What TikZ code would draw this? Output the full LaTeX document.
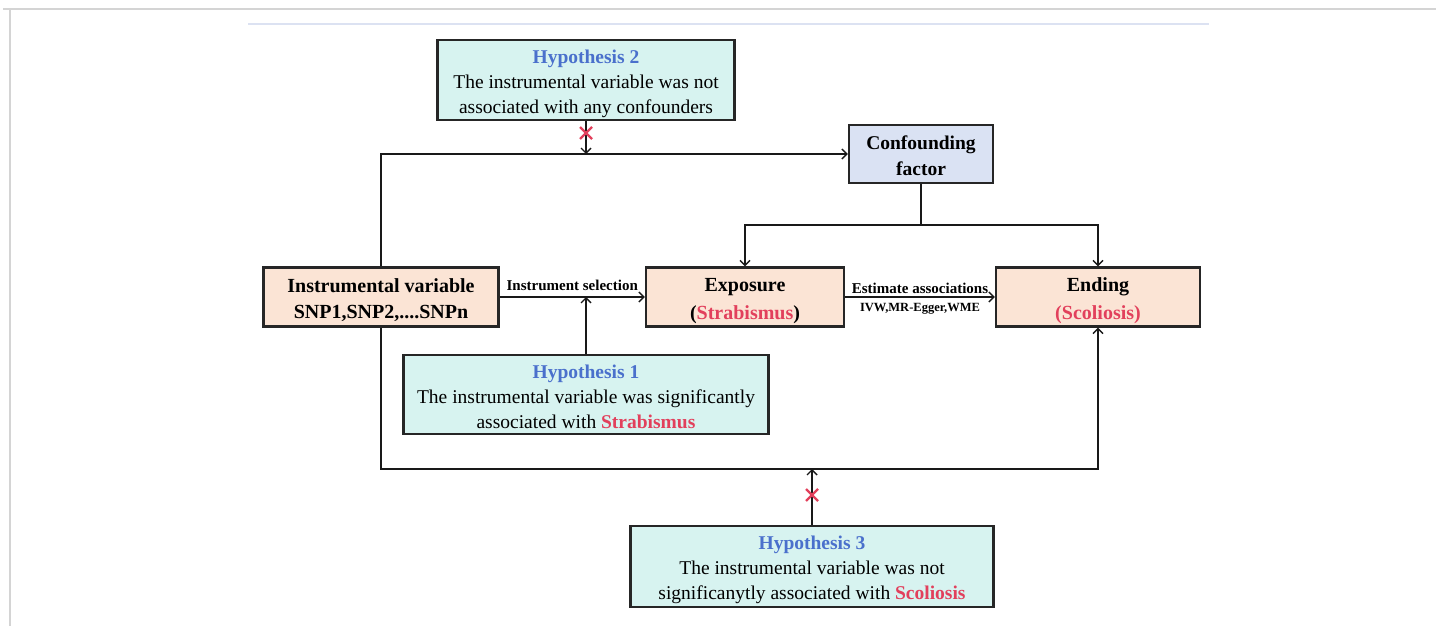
\documentclass[tikz,border=0pt]{standalone}
\usepackage{fontspec}
\setmainfont{Liberation Serif}
\usetikzlibrary{arrows.meta}
\definecolor{hypblue}{HTML}{4A70CC}
\definecolor{redtxt}{HTML}{E2405C}
\definecolor{hypfill}{HTML}{D7F3F0}
\definecolor{conffill}{HTML}{DAE2F3}
\definecolor{peach}{HTML}{FBE4D5}
\definecolor{framegray}{HTML}{D4D4D4}
\definecolor{frameblue}{HTML}{DCE2F2}
\tikzset{
  box/.style={draw=black!85, line width=2.2pt, inner sep=0pt, align=center, font=\fontsize{19.5}{25}\selectfont},
  hyp/.style={box, fill=hypfill},
  peachbox/.style={box, fill=peach, font=\bfseries\fontsize{20}{28.5}\selectfont},
  confbox/.style={box, fill=conffill, font=\bfseries\fontsize{19.5}{26}\selectfont},
  conn/.style={line width=1.8pt, draw=black!90},
  arr/.style={conn, -{Straight Barb[length=5pt,width=10pt,line width=1.4pt]}},
  edgelbl/.style={font=\bfseries\fontsize{15}{17}\selectfont, inner sep=1pt},
  redx/.style={draw=redtxt, line width=2.2pt},
}
\newcommand{\hyptitle}[1]{{\color{hypblue}\bfseries #1}}
\newcommand{\redword}[1]{{\color{redtxt}\bfseries #1}}
\newcommand{\tstrut}[1]{\rule{0pt}{#1}}
\begin{document}
\begin{tikzpicture}[x=1pt,y=-1pt]
\useasboundingbox (0,0) rectangle (1436,626);
% frame
\draw[framegray, line width=2pt] (3,9) -- (1436,9);
\draw[framegray, line width=2pt] (10,9) -- (10,626);
\draw[frameblue, line width=1.5pt] (248,24) -- (1209,24);

% nodes
\node[hyp, minimum width=297pt, minimum height=80pt] (hyp2) at (586,80)
  {\tstrut{21pt}\hyptitle{Hypothesis 2}\\The instrumental variable was not\\associated with any confounders};
\node[confbox, minimum width=144pt, minimum height=58pt] (conf) at (921,154)
  {\tstrut{17pt}Confounding\\factor};
\node[peachbox, minimum width=235pt, minimum height=59pt, font=\bfseries\fontsize{20}{26}\selectfont] (iv) at (381,297)
  {\tstrut{20pt}Instrumental variable\\SNP1,SNP2,....SNPn};
\node[peachbox, minimum width=198pt, minimum height=59pt] (exp) at (745,297)
  {\tstrut{21pt}Exposure\\(\redword{Strabismus})};
\node[peachbox, minimum width=204pt, minimum height=59pt] (end) at (1098,297)
  {\tstrut{21pt}Ending\\\redword{(Scoliosis)}};
\node[hyp, minimum width=365pt, minimum height=79pt] (hyp1) at (586,394.5)
  {\tstrut{18pt}\hyptitle{Hypothesis 1}\\The instrumental variable was significantly\\associated with \redword{Strabismus}};
\node[hyp, minimum width=363pt, minimum height=81pt] (hyp3) at (812,566.5)
  {\tstrut{20.5pt}\hyptitle{Hypothesis 3}\\The instrumental variable was not\\significanytly associated with \redword{Scoliosis}};

% junction coordinates
\coordinate (cj) at (921,225);
\coordinate (bl) at (381,469);

% connectors
\draw[arr] (iv.north) |- (conf.west);
\draw[arr] (hyp2.south) -- (hyp2.south |- conf.west);
\draw[conn] (conf.south) -- (cj);
\draw[arr] (cj) -| (exp.north);
\draw[arr] (cj) -| (end.north);
\draw[arr] (iv.east) -- (exp.west) node[edgelbl, pos=0.5, above=4pt] {Instrument selection};
\draw[arr] (hyp1.north) -- (hyp1.north |- iv.east);
\draw[arr] (exp.east) -- (end.west)
  node[edgelbl, pos=0.5, above=1pt] {Estimate associations}
  node[edgelbl, pos=0.5, below=4pt, font=\bfseries\fontsize{12.5}{14}\selectfont] {IVW,MR-Egger,WME};
\draw[arr] (iv.south) -- (bl) -| (end.south);
\draw[arr] (hyp3.north) -- (hyp3.north |- bl);

% red crosses
\draw[redx] (580,127) -- (592,139) (580,139) -- (592,127);
\draw[redx] (806,489) -- (818,501) (806,501) -- (818,489);
\end{tikzpicture}
\end{document}
